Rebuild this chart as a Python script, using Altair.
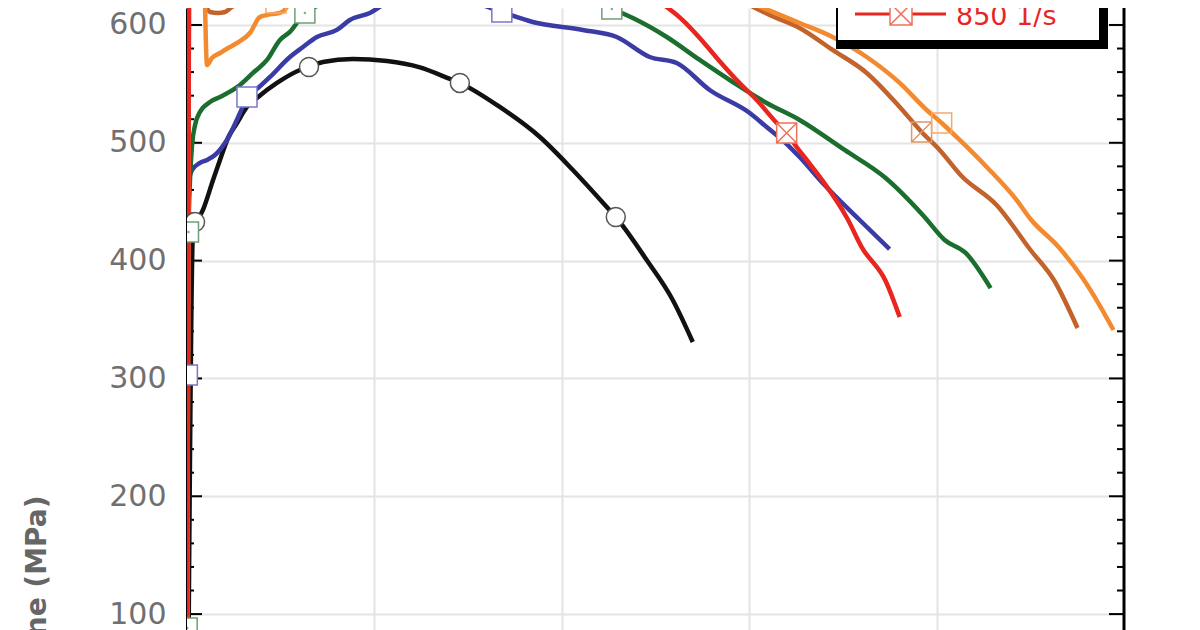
import altair as alt
import pandas as pd

# curves: strain (-) and stress (MPa)
black_strain = [0.0005, 0.0032, 0.0053, 0.0085, 0.0139, 0.0176, 0.0219, 0.0267, 0.032, 0.0373,
                0.048, 0.0603, 0.0651, 0.0725, 0.0885, 0.1067, 0.1243, 0.1403, 0.1456, 0.1669,
                0.1883, 0.2059, 0.224, 0.2288, 0.2453, 0.2592, 0.2699]
black_stress = [0, 424.3, 432.8, 443.0, 468.4, 485.4, 504.1, 516.8, 530.4, 538.0,
                550.8, 561.8, 564.3, 568.6, 571.1, 569.4, 564.0, 554.2, 550.8, 530.4,
                504.9, 476.9, 445.5, 437.0, 400.5, 366.6, 330.9]
black_mark_strain = [0.0043, 0.0651, 0.1456, 0.2288]
black_mark_stress = [432.8, 564.3, 550.8, 437.0]

blue_strain = [0, 0.0002, 0.0005, 0.0011, 0.0027, 0.0069, 0.0107, 0.0149, 0.0213, 0.0283,
               0.032, 0.0379, 0.0443, 0.0549, 0.0619, 0.0693, 0.08, 0.0869, 0.0976, 0.1067,
               0.1243, 0.1376, 0.1493, 0.168, 0.1845, 0.2112, 0.2293, 0.2469, 0.2613, 0.2789,
               0.3003, 0.3093, 0.3195, 0.3269, 0.3397, 0.3584, 0.3749]
blue_stress = [0, 302.9, 409.0, 468.4, 476.9, 482.9, 485.4, 489.6, 502.4, 525.3,
               538.9, 546.5, 555.9, 572.8, 581.3, 589.8, 595.8, 604.2, 610.2, 618.7,
               623.8, 624.6, 621.2, 611.0, 602.5, 595.8, 589.8, 572.8, 567.7, 544.8,
               525.3, 513.4, 499.8, 487.9, 465.0, 435.3, 409.8]
blue_mark_strain = [0.0002, 0.032, 0.168]
blue_mark_stress = [302.9, 538.9, 611.0]

green_strain = [0, 0.0001, 0.0005, 0.0008, 0.0016, 0.0027, 0.0043, 0.0069, 0.0123, 0.0176,
                0.0283, 0.0352, 0.0427, 0.0496, 0.0549, 0.0629, 0.0693, 0.0779, 0.0923, 0.1136,
                0.1403, 0.1669, 0.1936, 0.2133, 0.2267, 0.2379, 0.256, 0.2736, 0.2912, 0.3093,
                0.3269, 0.3509, 0.3728, 0.3931, 0.4043, 0.4155, 0.4288]
green_stress = [0, 88.1, 281.7, 424.3, 468.4, 498.1, 515.1, 526.1, 534.6, 538.9,
                549.1, 559.3, 570.3, 587.3, 594.1, 610.2, 616.1, 621.2, 628.0, 634.0,
                638.2, 638.2, 631.4, 621.2, 613.6, 605.9, 589.8, 570.3, 551.6, 533.8,
                519.4, 493.9, 470.1, 437.9, 417.5, 406.5, 376.7]
green_mark_strain = [0.0001, 0.0008, 0.0629, 0.2267]
green_mark_stress = [88.1, 424.3, 610.2, 613.6]

brown_strain = [0, 0.0011, 0.0069, 0.0091, 0.0096, 0.0123, 0.0165, 0.0203, 0.024, 0.0283,
                0.0309, 0.0603, 0.1136, 0.1669, 0.2203, 0.2736, 0.2949, 0.3109, 0.3269, 0.3445,
                0.3627, 0.3803, 0.392, 0.4016, 0.4133, 0.432, 0.4501, 0.4629, 0.4752]
brown_stress = [0, 663.7, 672.2, 646.7, 621.2, 611.0, 610.2, 611.0, 615.3, 618.7,
                621.2, 642.4, 659.4, 663.7, 656.9, 636.5, 621.2, 608.5, 597.5, 578.8,
                559.3, 530.4, 509.2, 493.9, 471.8, 447.2, 409.0, 382.7, 342.8]
brown_mark_strain = [0.0352, 0.392]
brown_mark_stress = [624.6, 509.2]

orange_strain = [0, 0.0011, 0.0069, 0.0091, 0.0096, 0.0107, 0.0133, 0.0176, 0.0229, 0.0267,
                 0.0336, 0.0389, 0.0427, 0.0496, 0.0533, 0.0549, 0.0709, 0.1136, 0.1669, 0.2203,
                 0.2736, 0.2965, 0.3269, 0.3445, 0.3627, 0.3803, 0.3947, 0.4027, 0.4123, 0.4267,
                 0.4427, 0.4501, 0.4651, 0.4779, 0.4869, 0.4944]
orange_stress = [0, 672.2, 689.2, 672.2, 621.2, 566.0, 572.0, 576.2, 581.3, 584.7,
                 593.2, 606.8, 608.5, 610.2, 615.3, 621.2, 638.2, 655.2, 659.4, 653.4,
                 633.9, 621.2, 601.7, 589.8, 572.8, 550.8, 527.8, 516.8, 502.4, 479.5,
                 451.4, 435.3, 411.5, 385.2, 362.3, 341.1]
orange_mark_strain = [0.0475, 0.4027]
orange_mark_stress = [618.7, 516.8]

red_strain = [0, 0.0011, 0.0043, 0.0603, 0.1403, 0.1936, 0.2507, 0.2645, 0.2736, 0.2827,
              0.2933, 0.304, 0.3147, 0.32, 0.3253, 0.3307, 0.3381, 0.3525, 0.36, 0.3728, 0.3803]
red_stress = [0, 655.2, 672.2, 680.6, 672.2, 655.2, 621.2, 604.2, 589.0, 572.0,
              553.3, 536.3, 516.8, 508.3, 496.4, 485.4, 470.1, 435.3, 411.5, 382.7, 352.1]
red_mark_strain = [0.32]
red_mark_stress = [508.3]

y_ticks = [100, 200, 300, 400, 500, 600]
y_minor = [v for v in range(80, 640, 20) if v % 100]
x_grid = [0.1, 0.2, 0.3, 0.4]
legend_labels = ["850 1/s"]

X_DOMAIN = [0, 0.5]
Y_DOMAIN = [78, 614.4]
W, H = 937, 632
GRID = "#e4e4e4"
FONT = "DejaVu Sans"

BOX_X = "M-1,-1H1V1H-1Z M-1,-1L1,1 M-1,1L1,-1"
BOX_SLASH = "M-1,-1H1V1H-1Z M-1,1L1,-1"

x_enc = alt.X("strain:Q", scale=alt.Scale(domain=X_DOMAIN, nice=False, zero=False),
              axis=alt.Axis(values=x_grid, grid=True, gridColor=GRID, gridWidth=2,
                            labels=False, ticks=False, domain=False, title=""))
y_enc = alt.Y("stress:Q", scale=alt.Scale(domain=Y_DOMAIN, nice=False, zero=False),
              axis=alt.Axis(values=y_ticks, grid=True, gridColor=GRID, gridWidth=2,
                            ticks=False, tickSize=0, domain=True, domainColor="black",
                            domainWidth=3, labelFont=FONT, labelFontSize=30,
                            labelColor="#707070", labelPadding=21,
                            title="ne (MPa)", titleFont=FONT, titleFontSize=28,
                            titleFontWeight="bold", titleColor="#666666", titleAngle=270,
                            titleAlign="right", titleBaseline="middle",
                            titleX=-150, titleY=487))


def frame(xs, ys):
    return pd.DataFrame({"strain": xs, "stress": ys, "i": range(len(xs))})


# (name, strain, stress, line colour, mark strain, mark stress, shape, marker stroke, fill)
series = [
    ("black", black_strain, black_stress, "#111111", black_mark_strain, black_mark_stress,
     "circle", "#555555", "white"),
    ("blue", blue_strain, blue_stress, "#3b3ba6", blue_mark_strain, blue_mark_stress,
     "square", "#7a78c8", "white"),
    ("green", green_strain, green_stress, "#1b6e2e", green_mark_strain, green_mark_stress,
     "square", "#6f9f76", "white"),
    ("brown", brown_strain, brown_stress, "#c1632b", brown_mark_strain, brown_mark_stress,
     BOX_SLASH, "#dc9868", "transparent"),
    ("orange", orange_strain, orange_stress, "#f48a2f", orange_mark_strain, orange_mark_stress,
     "square", "#f6a86a", "transparent"),
    ("red", red_strain, red_stress, "#e8261f", red_mark_strain, red_mark_stress,
     BOX_X, "#f0705a", "white"),
]

layers = []

# inward ticks, left and right
major_df = pd.DataFrame({"stress": y_ticks})
minor_df = pd.DataFrame({"stress": y_minor})
for df, ln in [(major_df, 15), (minor_df, 7)]:
    layers.append(alt.Chart(df).mark_rule(color="black", strokeWidth=2, clip=True).encode(
        y=y_enc, x=alt.value(0), x2=alt.value(ln)))
    layers.append(alt.Chart(df).mark_rule(color="black", strokeWidth=2, clip=True).encode(
        y=y_enc, x=alt.value(W - ln), x2=alt.value(W)))

one = pd.DataFrame({"a": [0]})
layers.append(alt.Chart(one).mark_rule(color="black", strokeWidth=3).encode(
    x=alt.value(W), y=alt.value(0), y2=alt.value(H)))

for name, xs, ys, col, *_ in series:
    layers.append(alt.Chart(frame(xs, ys)).mark_line(
        color=col, strokeWidth=4.5, clip=True, strokeJoin="round",
        interpolate="monotone").encode(x=x_enc, y=y_enc, order="i:Q"))

for name, _, _, col, mxs, mys, shape, mstroke, mfill in series:
    size = 360 if shape == "circle" else 400
    layers.append(alt.Chart(frame(mxs, mys)).mark_point(
        shape=shape, size=size, filled=True, fill=mfill, stroke=mstroke,
        strokeWidth=1.5, opacity=1, clip=True).encode(x=x_enc, y=y_enc))
    if name == "green":
        layers.append(alt.Chart(frame(mxs, mys)).mark_point(
            shape="circle", size=6, filled=True, color="#4a8a55", clip=True).encode(
            x=x_enc, y=y_enc))

# legend box (only its last entry shows)
leg = pd.DataFrame({"label": legend_labels})
layers.append(alt.Chart(one).mark_rect(color="black").encode(
    x=alt.value(649), x2=alt.value(921), y=alt.value(-20), y2=alt.value(41)))
layers.append(alt.Chart(one).mark_rect(color="white").encode(
    x=alt.value(651), x2=alt.value(912), y=alt.value(-20), y2=alt.value(32)))
layers.append(alt.Chart(leg).mark_rule(color="#e8261f", strokeWidth=3).encode(
    x=alt.value(668), x2=alt.value(759), y=alt.value(6)))
layers.append(alt.Chart(leg).mark_point(
    shape=BOX_X, size=484, filled=True, fill="white", stroke="#f0705a",
    strokeWidth=1.5, opacity=1).encode(x=alt.value(714), y=alt.value(6)))
layers.append(alt.Chart(leg).mark_text(
    align="left", baseline="alphabetic", font=FONT, fontSize=27, color="#e8261f").encode(
    x=alt.value(769), y=alt.value(17), text="label:N"))

chart = alt.layer(*layers).properties(
    width=W, height=H,
    padding={"left": 179, "top": 0, "right": 60, "bottom": 0},
    autosize=alt.AutoSizeParams(type="none"),
).configure_view(strokeWidth=0)

chart.save("out.html", embed_options={"renderer": "svg", "actions": False})
